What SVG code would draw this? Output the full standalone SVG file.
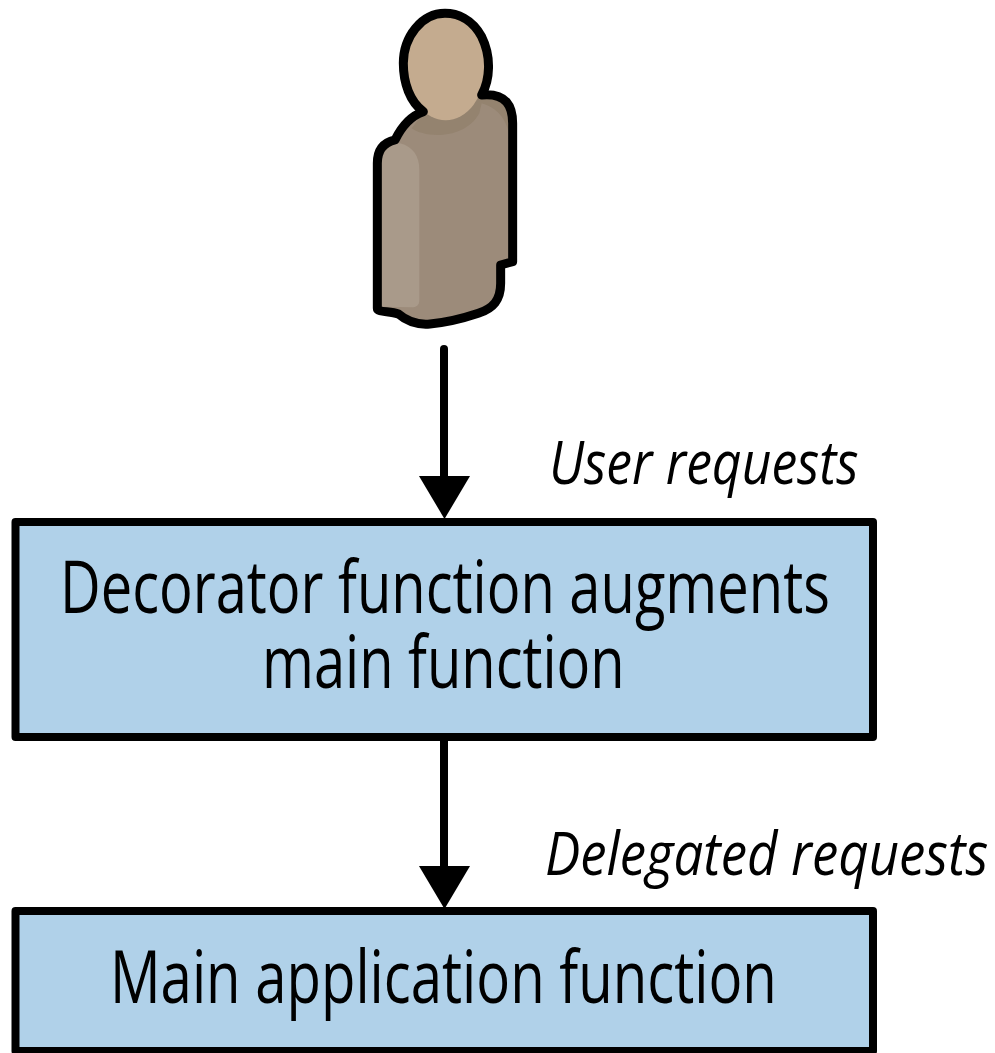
<svg xmlns="http://www.w3.org/2000/svg" width="995" height="1053" viewBox="0 0 995 1053">
<style>
.box{fill:#b0d1e9;stroke:#000;stroke-width:8;stroke-linejoin:round}
.t{font-family:"Open Sans","Noto Sans",sans-serif;fill:#000}
.m{font-size:74px}
.l{font-size:60px;font-style:italic}
.line{stroke:#000;stroke-width:8;fill:none;stroke-linecap:round}
</style>
<g id="user" transform="translate(350,0) scale(0.3333)">
<path d="M220 335C175 350 152 385 135 420C100 428 82 450 82 490V925C82 938 120 932 145 942C175 968 205 975 240 972C290 968 340 955 385 940C430 925 452 900 452 850V795L488 785V370C488 320 470 278 395 285C420 240 425 170 395 110C365 55 320 40 285 40C215 40 160 110 160 190C160 250 180 305 220 335Z" fill="#9c8b7a"/>
<path d="M185 385C225 415 345 420 388 340L395 310C430 320 465 345 477 400V360C470 310 450 285 395 290L220 340Z" fill="#94836f"/>
<path d="M95 920V490C95 455 115 435 150 430C190 440 208 470 208 510V900C208 915 200 922 185 922Z" fill="#a99a8a"/>
<ellipse cx="287" cy="205" rx="118" ry="156" fill="#c4ab8f"/>
<path d="M220 335C175 350 152 385 135 420C100 428 82 450 82 490V925C82 938 120 932 145 942C175 968 205 975 240 972C290 968 340 955 385 940C430 925 452 900 452 850V795L488 785V370C488 320 470 278 395 285C420 240 425 170 395 110C365 55 320 40 285 40C215 40 160 110 160 190C160 250 180 305 220 335Z" fill="none" stroke="#000" stroke-width="27" stroke-linejoin="round"/>
</g>
<g id="decorator">
<rect class="box" x="15.500" y="522" width="857.500" height="215"/>
<text class="t m" transform="translate(60,613) scale(0.78,1)" textLength="987" lengthAdjust="spacingAndGlyphs">Decorator function augments</text>
<text class="t m" transform="translate(262,688) scale(0.78,1)" textLength="465" lengthAdjust="spacingAndGlyphs">main function</text>
</g>
<g id="main">
<rect class="box" x="15.500" y="911" width="857.500" height="140"/>
<text class="t m" transform="translate(110,1003) scale(0.78,1)" textLength="855" lengthAdjust="spacingAndGlyphs">Main application function</text>
</g>
<g id="connectors">
<line class="line" x1="444" y1="349" x2="444" y2="480"/>
<path d="M419 476H470L444.500 519Z" fill="#000"/>
<line class="line" x1="444" y1="740" x2="444" y2="870"/>
<path d="M419 866H470L444.500 909Z" fill="#000"/>
</g>
<text class="t l" transform="translate(549,484) scale(0.8,1)" textLength="387" lengthAdjust="spacingAndGlyphs">User requests</text>
<text class="t l" transform="translate(545,875) scale(0.8,1)" textLength="554" lengthAdjust="spacingAndGlyphs">Delegated requests</text>
</svg>
